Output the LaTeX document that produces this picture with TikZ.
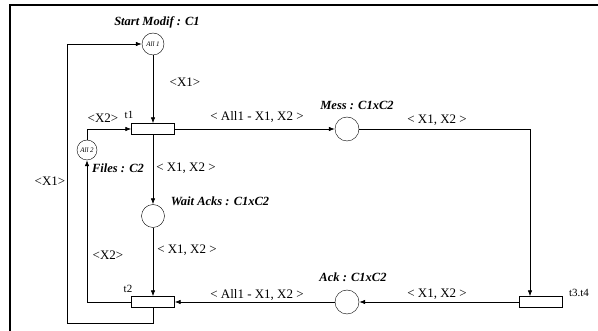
\documentclass[tikz,border=0pt]{standalone}
\usepackage{fontspec}
\setmainfont{Liberation Serif}
\usetikzlibrary{arrows.meta}
\tikzset{
  place/.style={draw, circle, minimum size=23pt, inner sep=0pt},
  trans/.style={draw, rectangle, minimum width=43pt, minimum height=11pt, inner sep=0pt},
  arc/.style={-{Latex[length=6pt,width=4.5pt]}, line width=0.7pt},
  lbl/.style={font=\fontsize{13}{15}\selectfont},
  pname/.style={font=\fontsize{12.5}{14}\selectfont\bfseries\itshape},
  tname/.style={font=\fontsize{11}{12}\selectfont},
  tok/.style={font=\fontsize{7}{8}\selectfont\itshape}
}
\begin{document}
\begin{tikzpicture}[x=1pt, y=-1pt]
		\useasboundingbox (0,0) rectangle (598,331);
		% Frame
		\draw[line width=1.5pt] (10,331) -- (10,5) -- (598,5);
		
		% Places
		\node[place, minimum size=22pt, tok] (startmodif) at (153,44) {All 1};
		\node[place, minimum size=20pt, tok] (files) at (87,150) {All 2};
		\node[place] (waitacks) at (153,216) {};
		\node[place, minimum size=24pt] (mess) at (347,129) {};
		\node[place, minimum size=24pt] (ack) at (347,302) {};
		
		% Transitions
		\node[trans] (t1) at (153,129) {};
		\node[trans] (t2) at (153,302) {};
		\node[trans] (t34) at (541,302) {};
		
		% Arcs
		\draw[arc] (startmodif) -- (t1);
		\draw[arc] (t1) -- (mess);
		\draw[arc] (mess) -| ([xshift=-11pt]t34.north);
		\draw[arc] (t34) -- (ack);
		\draw[arc] (ack) -- (t2);
		\draw[arc] (t1) -- (waitacks);
		\draw[arc] (waitacks) -- (t2);
		\draw[arc] (t2) -| (files);
		\draw[arc] (files) |- (t1);
		\coordinate (loop) at (67,323);
		\draw[arc] (t2) |- (loop) |- (startmodif);
		
		% Labels
		\node[pname] (startlbl) at (157,22) {Start Modif : C1};
		\node[pname] (fileslbl) at (118,168) {Files : C2};
		\node[pname] (waitlbl) at (220,201) {Wait Acks : C1xC2};
		\node[pname] (messlbl) at (357,105) {Mess : C1xC2};
		\node[pname] (acklbl) at (353,277) {Ack : C1xC2};
		\node[tname] (t1lbl) at (129,115) {t1};
		\node[tname] (t2lbl) at (128,289) {t2};
		\node[tname] (t34lbl) at (579,293) {t3.t4};
		
		\node[lbl] (x1a) at (185,82) {<X1>};
		\node[lbl] (x2a) at (103,118) {<X2>};
		\node[lbl] (x1b) at (50,181) {<X1>};
		\node[lbl] (x2b) at (108,255) {<X2>};
		\node[lbl] (e1) at (257,117) {< All1 - X1, X2 >};
		\node[lbl] (e2) at (186,168) {< X1, X2 >};
		\node[lbl] (e3) at (187,250) {< X1, X2 >};
		\node[lbl] (e4) at (257,295) {< All1 - X1, X2 >};
		\node[lbl] (e5) at (437,120) {< X1, X2 >};
		\node[lbl] (e6) at (437,294) {< X1, X2 >};
	\end{tikzpicture}
\end{document}
